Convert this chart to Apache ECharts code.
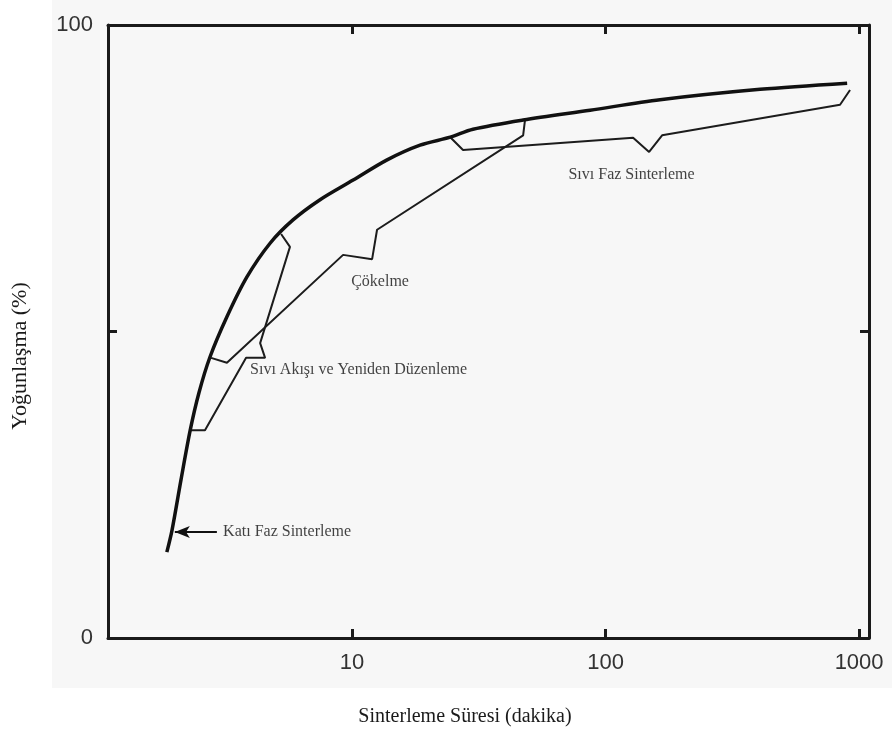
<!DOCTYPE html>
<html>
<head>
<meta charset="utf-8">
<script src="https://cdn.jsdelivr.net/npm/echarts@6/dist/echarts.min.js"></script>
<style>
  html, body { margin: 0; padding: 0; background: #ffffff; }
  #chart { width: 892px; height: 733px; }
</style>
</head>
<body>
<div id="chart"></div>
<script>
// Ana eğri (kalın): sinterleme süresi (dk) ve yoğunlaşma (%)
var mainX = [1.86, 1.95, 2.115, 2.30, 2.49, 2.75, 3.21, 3.85, 4.75, 5.85, 7.48, 10.1, 13.75, 18.55, 24.4, 30.0, 47.3, 86.9, 164, 407, 897];
var mainY = [14.0, 17.6, 25.8, 33.9, 40.0, 45.8, 52.4, 58.9, 64.4, 68.2, 71.5, 74.7, 78.0, 80.4, 81.7, 83.0, 84.5, 86.1, 87.8, 89.5, 90.5];

// İnce kollar
var akisX = [2.30, 2.63, 3.82, 4.54, 4.34, 5.69, 5.25];
var akisY = [33.9, 33.9, 45.7, 45.7, 48.1, 63.8, 65.9];

var cokelmeX = [2.78, 3.21, 9.22, 12.0, 12.55, 47.3, 48.1];
var cokelmeY = [45.7, 44.9, 62.5, 61.8, 66.6, 82.0, 84.5];

var sivifazX = [24.4, 27.4, 128.4, 148.5, 167.1, 841, 921];
var sivifazY = [81.7, 79.6, 81.6, 79.3, 82.0, 87.0, 89.4];

// Etiketler
var etiketler = ['Sıvı Faz Sinterleme', 'Çökelme', 'Sıvı Akışı ve Yeniden Düzenleme', 'Katı Faz Sinterleme'];
var etiketX = [126.6, 12.9, 3.96, 3.10];
var etiketY = [75.5, 58.1, 43.7, 17.3];
var etiketHiza = ['center', 'center', 'left', 'left'];

// Ok (Katı Faz Sinterleme)
var okX = [2.93, 2.0];
var okY = [17.3, 17.3];

var xTicks = [10, 100, 1000];
var yTicks = [0, 100];
var yTickMarks = [50];

function zip(xs, ys) {
  return xs.map(function (x, i) { return [x, ys[i]]; });
}

var chart = echarts.init(document.getElementById('chart'));

var axisColor = '#1a1a1a';
var tickFont = { fontSize: 22, fontFamily: 'Liberation Sans', color: '#333' };

function xAxisCfg(pos, showLabel) {
  return {
    type: 'log',
    logBase: 10,
    min: 1.09,
    max: 1094,
    position: pos,
    axisLine: { show: true, onZero: false, lineStyle: { color: axisColor, width: 3 } },
    axisTick: {
      show: true, inside: true, length: 9, customValues: xTicks,
      lineStyle: { color: axisColor, width: 3 }
    },
    minorTick: { show: false },
    splitLine: { show: false },
    axisLabel: {
      show: showLabel,
      margin: 14,
      showMinLabel: false,
      showMaxLabel: false,
      fontSize: tickFont.fontSize,
      fontFamily: tickFont.fontFamily,
      color: tickFont.color,
      formatter: function (v) {
        var r = Math.round(v);
        return xTicks.indexOf(r) >= 0 ? String(r) : '';
      }
    }
  };
}

function yAxisCfg(pos, showLabel) {
  return {
    type: 'value',
    min: 0,
    max: 100,
    interval: 50,
    position: pos,
    axisLine: { show: true, onZero: false, lineStyle: { color: axisColor, width: 3 } },
    axisTick: {
      show: true, inside: true, length: 9, customValues: yTickMarks,
      lineStyle: { color: axisColor, width: 3 }
    },
    splitLine: { show: false },
    axisLabel: {
      show: showLabel,
      margin: 15,
      fontSize: tickFont.fontSize,
      fontFamily: tickFont.fontFamily,
      color: tickFont.color,
      formatter: function (v) {
        return yTicks.indexOf(v) >= 0 ? String(v) : '';
      }
    }
  };
}

var thinLine = { color: '#1c1c1c', width: 2 };

var option = {
  backgroundColor: '#ffffff',
  animation: false,
  grid: { left: 108, right: 23, top: 25, bottom: 95 },
  graphic: [
    {
      type: 'rect', z: -10, left: 52, top: 0,
      shape: { width: 840, height: 688 },
      style: { fill: '#f7f7f7' }
    },
    {
      type: 'text', z: 10, x: 465, y: 717,
      style: {
        text: 'Sinterleme Süresi (dakika)', fill: '#1a1a1a',
        font: '20px "Liberation Serif"', textAlign: 'center', textVerticalAlign: 'middle'
      }
    },
    {
      type: 'text', z: 10, x: 20, y: 356, rotation: Math.PI / 2,
      style: {
        text: 'Yoğunlaşma (%)', fill: '#1a1a1a',
        font: '22px "Liberation Serif"', textAlign: 'center', textVerticalAlign: 'middle'
      }
    }
  ],
  xAxis: [xAxisCfg('bottom', true), xAxisCfg('top', false)],
  yAxis: [yAxisCfg('left', true), yAxisCfg('right', false)],
  series: [
    {
      type: 'line', data: zip(mainX, mainY), symbol: 'none', smooth: 0.3,
      lineStyle: { color: '#111', width: 3.5 }, z: 5,
      markLine: {
        silent: true,
        symbol: ['none', 'arrow'],
        symbolSize: [9, 15],
        label: { show: false },
        lineStyle: { color: '#111', width: 2, type: 'solid' },
        data: [[{ coord: [okX[0], okY[0]] }, { coord: [okX[1], okY[1]] }]]
      }
    },
    { type: 'line', data: zip(akisX, akisY), symbol: 'none', lineStyle: thinLine },
    { type: 'line', data: zip(cokelmeX, cokelmeY), symbol: 'none', lineStyle: thinLine },
    { type: 'line', data: zip(sivifazX, sivifazY), symbol: 'none', lineStyle: thinLine },
    {
      type: 'scatter', symbolSize: 0, silent: true,
      data: etiketler.map(function (t, i) {
        return {
          value: [etiketX[i], etiketY[i]],
          label: {
            show: true, position: 'inside', formatter: t,
            align: etiketHiza[i], verticalAlign: 'middle',
            fontSize: 16, fontFamily: 'Liberation Serif', color: '#111'
          }
        };
      })
    }
  ]
};

chart.setOption(option);
</script>
</body>
</html>
